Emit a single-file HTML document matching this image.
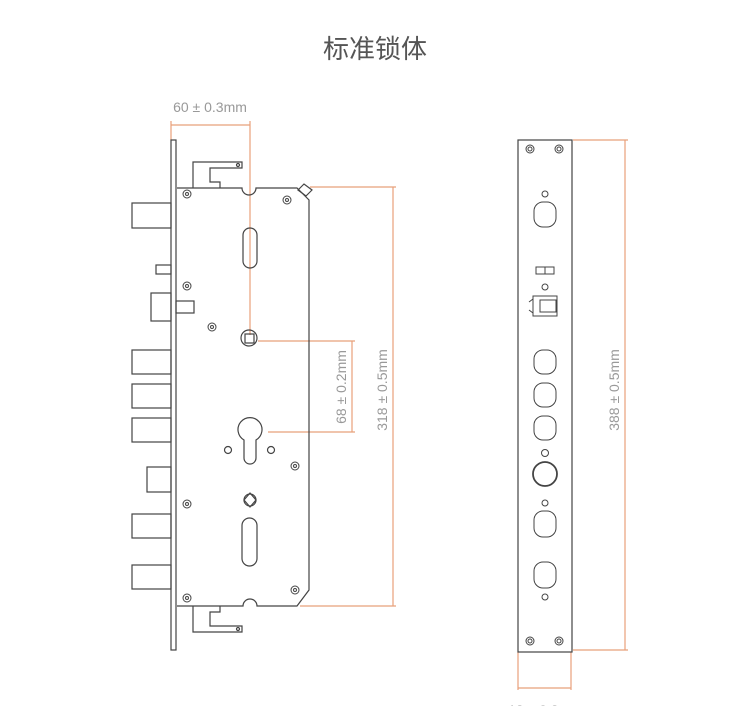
<!DOCTYPE html>
<html><head><meta charset="utf-8"><style>
html,body{margin:0;padding:0;background:#fff;width:750px;height:706px;overflow:hidden}
svg{display:block}
</style></head><body>
<svg width="750" height="706" viewBox="0 0 750 706" xmlns="http://www.w3.org/2000/svg" font-family="Liberation Sans, sans-serif">
<text x="375" y="58" text-anchor="middle" font-size="26" fill="#555" font-family="Liberation Sans, Noto Sans CJK SC, sans-serif">标准锁体</text>

<g fill="none" stroke="#e8a07a" stroke-width="1.2">
<line x1="171" y1="125" x2="250" y2="125"/>
<line x1="171" y1="121" x2="171" y2="140"/>
<line x1="250" y1="121" x2="250" y2="335"/>
<line x1="310" y1="187" x2="396" y2="187"/>
<line x1="393" y1="187" x2="393" y2="606"/>
<line x1="300" y1="606" x2="396" y2="606"/>
<line x1="258" y1="341" x2="355" y2="341"/>
<line x1="268" y1="432" x2="355" y2="432"/>
<line x1="352" y1="341" x2="352" y2="432"/>
<line x1="573" y1="140" x2="628" y2="140"/>
<line x1="625" y1="140" x2="625" y2="650"/>
<line x1="573" y1="650" x2="628" y2="650"/>
<line x1="518" y1="652" x2="518" y2="690"/>
<line x1="571" y1="652" x2="571" y2="690"/>
<line x1="518" y1="688" x2="571" y2="688"/>
</g>
<g fill="#999" font-size="14">
<text x="210" y="112" text-anchor="middle">60 ± 0.3mm</text>
<text transform="translate(346,387) rotate(-90)" text-anchor="middle">68 ± 0.2mm</text>
<text transform="translate(387,390) rotate(-90)" text-anchor="middle">318 ± 0.5mm</text>
<text transform="translate(619,390) rotate(-90)" text-anchor="middle">388 ± 0.5mm</text>
<text x="545" y="715" text-anchor="middle">18 ± 0.2mm</text>
</g>

<g fill="none" stroke="#444" stroke-width="1.2">
<rect x="171" y="140" width="5" height="510"/>
<path d="M177 188 H242 A7 7 0 0 0 256 188 H297 L309 200 V590 L297 606 H257 A7 7 0 0 0 243 606 H177"/>
<path d="M298 190 l6 -6 l8 6 l-6 6 z"/>
<path d="M193 188 V162 H242 V168 H210 V182 H220 V188"/>
<circle cx="238" cy="165" r="1.5"/>
<path d="M193 606 V632 H242 V626 H210 V612 H220 V606"/>
<circle cx="238" cy="629" r="1.5"/>
<rect x="132" y="203" width="39" height="25"/>
<rect x="156" y="265" width="15" height="9"/>
<rect x="151" y="293" width="20" height="28"/>
<rect x="176" y="301" width="18" height="12"/>
<rect x="132" y="350" width="39" height="24"/>
<rect x="132" y="384" width="39" height="24"/>
<rect x="132" y="418" width="39" height="24"/>
<rect x="147" y="467" width="24" height="25"/>
<rect x="132" y="514" width="39" height="24"/>
<rect x="132" y="565" width="39" height="24"/>
<rect x="243" y="228" width="14" height="40" rx="7"/>
<rect x="242" y="518" width="15" height="48" rx="7.5"/>
<path d="M244 440 A12 12 0 1 1 256 440 V458 A6 6 0 0 1 244 458 Z"/>
<circle cx="228" cy="450" r="3.5"/>
<circle cx="271" cy="450" r="3.5"/>
<path d="M250 493 l6 7 l-6 7 l-6 -7 z"/>
<circle cx="250" cy="500" r="6"/>
<circle cx="249" cy="338" r="8"/>
<rect x="245" y="334" width="9" height="9"/>
</g>
<g fill="none" stroke="#444" stroke-width="1">
<circle cx="187" cy="194" r="4"/><circle cx="187" cy="194" r="1.5"/>
<circle cx="287" cy="200" r="4"/><circle cx="287" cy="200" r="1.5"/>
<circle cx="187" cy="286" r="4"/><circle cx="187" cy="286" r="1.5"/>
<circle cx="212" cy="327" r="4"/><circle cx="212" cy="327" r="1.5"/>
<circle cx="295" cy="466" r="4"/><circle cx="295" cy="466" r="1.5"/>
<circle cx="187" cy="504" r="4"/><circle cx="187" cy="504" r="1.5"/>
<circle cx="187" cy="598" r="4"/><circle cx="187" cy="598" r="1.5"/>
<circle cx="295" cy="590" r="4"/><circle cx="295" cy="590" r="1.5"/>
<rect x="518" y="140" width="54" height="512" stroke-width="1.2"/>
<circle cx="530" cy="149" r="4"/><circle cx="530" cy="149" r="2"/>
<circle cx="559" cy="149" r="4"/><circle cx="559" cy="149" r="2"/>
<circle cx="530" cy="641" r="4"/><circle cx="530" cy="641" r="2"/>
<circle cx="559" cy="641" r="4"/><circle cx="559" cy="641" r="2"/>
<circle cx="545" cy="194" r="3"/>
<circle cx="545" cy="287" r="3"/>
<circle cx="545" cy="453" r="3.5"/>
<circle cx="545" cy="503" r="3"/>
<circle cx="545" cy="597" r="3"/>
<rect x="534" y="202" width="22" height="25" rx="9"/>
<rect x="534" y="350" width="22" height="24" rx="9"/>
<rect x="534" y="383" width="22" height="24" rx="9"/>
<rect x="534" y="416" width="22" height="24" rx="9"/>
<circle cx="545" cy="474" r="12" stroke-width="1.8"/>
<rect x="534" y="511" width="22" height="26" rx="9"/>
<rect x="534" y="562" width="22" height="26" rx="9"/>
<rect x="536" y="267" width="18" height="7"/>
<line x1="545" y1="267" x2="545" y2="274"/>
<path d="M533 296 H557 V316 H533 Z M529 302 l4 -3 M529 310 l4 3"/>
<rect x="540" y="300" width="16" height="12"/>
</g>
</svg>
</body></html>
